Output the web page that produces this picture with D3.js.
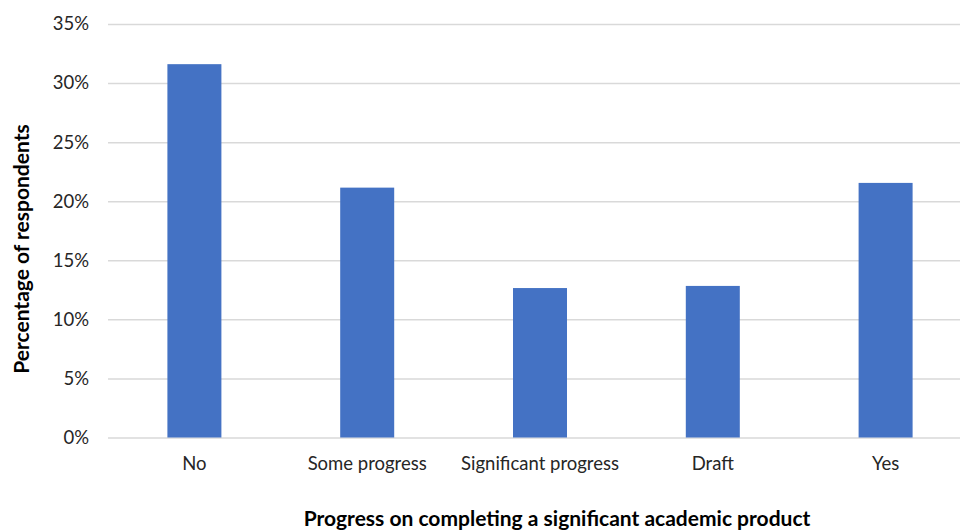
<!DOCTYPE html>
<html>
<head>
<meta charset="utf-8">
<script src="https://cdn.jsdelivr.net/npm/d3@7"></script>
<style>
  html, body { margin: 0; padding: 0; background: #fff; }
  svg { display: block; font-family: Lato, "Open Sans", sans-serif; }
</style>
</head>
<body>
<svg id="chart" width="960" height="530"></svg>
<script>
// Share of respondents by progress on their academic product
const categories = ["No", "Some progress", "Significant progress", "Draft", "Yes"];
const values = [0.316, 0.2115, 0.1265, 0.1283, 0.2155];
const yTicks = [0, 0.05, 0.10, 0.15, 0.20, 0.25, 0.30, 0.35];

const svg = d3.select("#chart");
const plot = { left: 108, right: 972, top: 24, bottom: 437.5 };
const labelFont = "18.5px";
const titleFont = "21px";

const x = d3.scaleBand()
  .domain(categories)
  .range([plot.left, plot.right])
  .paddingInner(0.6875)
  .paddingOuter(0.34375);

const y = d3.scaleLinear().domain([0, 0.35]).range([plot.bottom, plot.top]);

// Horizontal gridlines and percent labels
const yAxis = d3.axisLeft(y)
  .tickValues(yTicks)
  .tickFormat(d3.format(".0%"))
  .tickSize(-(plot.right - plot.left))
  .tickPadding(19);

svg.append("g")
  .attr("transform", `translate(${plot.left},0)`)
  .call(yAxis)
  .call(g => g.select(".domain").remove())
  .call(g => g.selectAll(".tick line").attr("stroke", "#d9d9d9").attr("stroke-width", 1.5))
  .call(g => g.selectAll(".tick text")
    .attr("fill", "#262626")
    .style("font-size", labelFont)
    .style("font-family", "Lato, 'Open Sans', sans-serif"));

// Bars
svg.append("g")
  .selectAll("rect")
  .data(categories.map((c, i) => ({ c, v: values[i] })))
  .join("rect")
  .attr("x", d => x(d.c))
  .attr("y", d => y(d.v))
  .attr("width", x.bandwidth())
  .attr("height", d => y(0) - y(d.v))
  .attr("fill", "#4472c4");

// Category labels
const xAxis = d3.axisBottom(x).tickSize(0).tickPadding(19);
svg.append("g")
  .attr("transform", `translate(0,${plot.bottom})`)
  .call(xAxis)
  .call(g => g.select(".domain").remove())
  .call(g => g.selectAll(".tick text")
    .attr("fill", "#262626")
    .style("font-size", labelFont)
    .style("font-family", "Lato, 'Open Sans', sans-serif"));

// Axis titles
svg.append("text")
  .attr("x", 557)
  .attr("y", 526)
  .attr("text-anchor", "middle")
  .attr("fill", "#000")
  .style("font-size", titleFont)
  .style("font-weight", "bold")
  .text("Progress on completing a significant academic product");

svg.append("text")
  .attr("transform", "translate(29,249) rotate(-90)")
  .attr("text-anchor", "middle")
  .attr("fill", "#000")
  .style("font-size", titleFont)
  .style("font-weight", "bold")
  .text("Percentage of respondents");
</script>
</body>
</html>
